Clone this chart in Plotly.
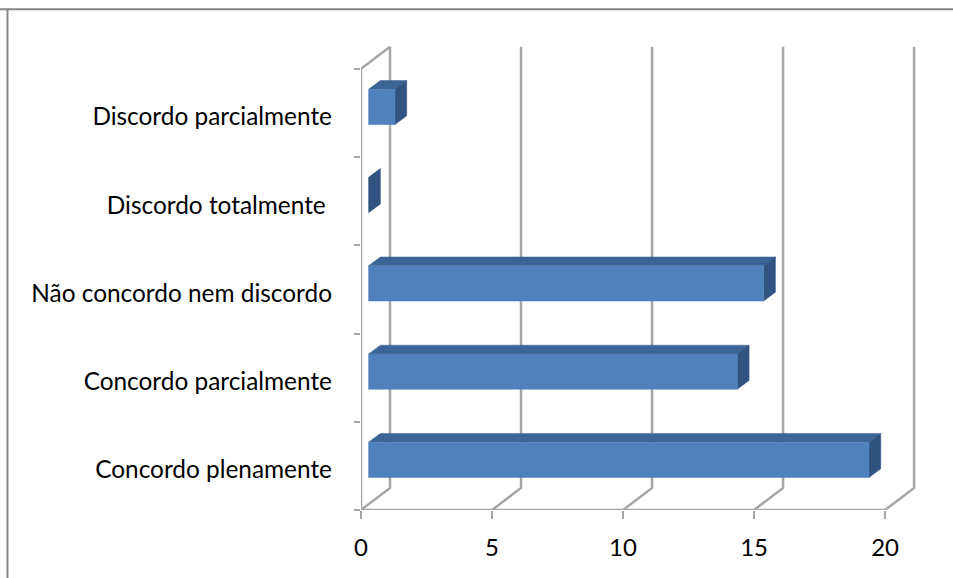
import plotly.graph_objects as go

categories = ["Concordo plenamente", "Concordo parcialmente", "Não concordo nem discordo",
              "Discordo totalmente\u00a0", "Discordo parcialmente"]
values = [19, 14, 15, 0, 1]
x_ticks = [0, 5, 10, 15, 20]

GRID = "#A6A6A6"
FRONT = "#4F81BD"
TOP = "#3C6595"
SIDE = "#305380"
FONT = "Lato"

# oblique projection of the 3-D box, in data units
DX, DY = 1.107, 0.25
BAR_X0, BAR_DY0 = 0.29, 0.068   # front of bar inside the depth
BAR_DX, BAR_DY = 0.45, 0.10     # depth of the bar itself
BAR_H = 0.40
SCALE = 1.005

fig = go.Figure()


def line(xs, ys, width=2.5, color=GRID):
    fig.add_trace(go.Scatter(x=xs, y=ys, mode="lines", line=dict(color=color, width=width),
                             hoverinfo="skip", showlegend=False, cliponaxis=False))


def poly(xs, ys, color):
    fig.add_trace(go.Scatter(x=xs, y=ys, mode="lines", fill="toself", fillcolor=color,
                             line=dict(color=color, width=0.5),
                             hoverinfo="skip", showlegend=False, cliponaxis=False))


n = len(categories)
# back wall verticals + floor depth lines
for t in x_ticks:
    line([t, t + DX, t + DX], [0, DY, n + DY])
# left wall + top depth edge
line([x_ticks[-1] + 0 * DX, 0, 0, DX], [0, 0, n, n + DY])

for i, v in enumerate(values):
    x0 = BAR_X0
    x1 = BAR_X0 + v * SCALE
    yc = i + 0.5 + BAR_DY0
    y0, y1 = yc - BAR_H / 2, yc + BAR_H / 2
    poly([x0, x1, x1 + BAR_DX, x0 + BAR_DX, x0],
         [y1, y1, y1 + BAR_DY, y1 + BAR_DY, y1], TOP)
    poly([x1, x1 + BAR_DX, x1 + BAR_DX, x1, x1],
         [y0, y0 + BAR_DY, y1 + BAR_DY, y1, y0], SIDE)
    if v > 0:
        poly([x0, x1, x1, x0, x0], [y0, y0, y1, y1, y0], FRONT)

fig.update_layout(
    width=953, height=578, autosize=False,
    margin=dict(l=360.5, r=953 - 916, t=45, b=68, autoexpand=False),
    paper_bgcolor="white", plot_bgcolor="white",
    font=dict(family=FONT, size=22, color="black"),
    showlegend=False,
    xaxis=dict(range=[0, 21.18], tickmode="array", tickvals=x_ticks, ticktext=[str(t) for t in x_ticks],
               showgrid=False, zeroline=False, showline=False, ticks="outside", ticklen=8,
               tickwidth=2, tickcolor=GRID, ticklabelstandoff=8, tickfont=dict(family=FONT, size=24)),
    yaxis=dict(range=[0, 5.27], tickmode="array", tickvals=[i + 0.455 for i in range(n)], ticktext=categories,
               showgrid=False, zeroline=False, showline=False, ticks="", ticklabelstandoff=28,
               tickfont=dict(family=FONT, size=24.4),
               minor=dict(tickmode="array", tickvals=list(range(n + 1)), ticks="outside", ticklen=6,
                          tickwidth=2, tickcolor=GRID, showgrid=False)),
    shapes=[
        dict(type="line", xref="paper", yref="paper", x0=-0.66, x1=1.1, y0=1.077, y1=1.077,
             line=dict(color="#868686", width=2)),
        dict(type="line", xref="paper", yref="paper", x0=-0.637, x1=-0.637, y0=-0.2, y1=1.077,
             line=dict(color="#868686", width=2)),
    ],
)
fig.write_html("out.html", config=dict(displayModeBar=False), post_script="document.body.style.margin='0';")
